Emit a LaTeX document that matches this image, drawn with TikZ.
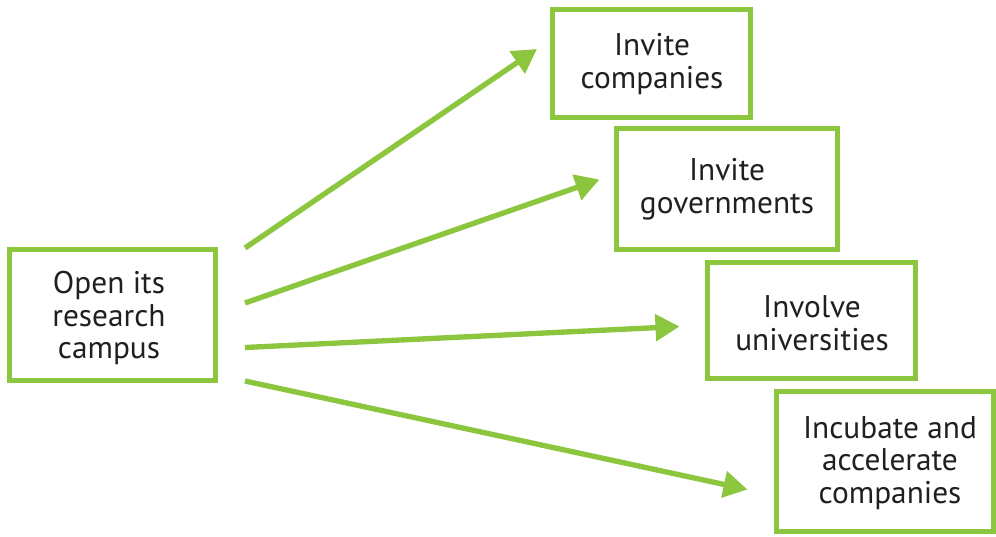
\documentclass[tikz,border=0pt]{standalone}
\usepackage{fontspec}
\setmainfont{PT Sans}
\usetikzlibrary{arrows.meta}
\definecolor{leaf}{HTML}{8CC63F}
\definecolor{ink}{HTML}{231F20}
\tikzset{
  box/.style={draw=leaf, line width=3.75pt, fill=white, inner sep=0pt},
  lbl/.style={text=ink, align=center, font=\fontsize{23.5}{24.4}\selectfont, inner sep=0pt},
  conn/.style={draw=leaf, line width=4pt, -{Triangle[length=18pt,width=19.5pt]}}
}
\begin{document}
\begin{tikzpicture}[x=0.75pt,y=-0.75pt]
\useasboundingbox (0,0) rectangle (996,536);
% boxes
\draw[box] (9,249.5) rectangle (215,380.5);
\draw[box] (552.5,9.5) rectangle (750.5,117.5);
\draw[box] (616.5,128.5) rectangle (837.5,249.5);
\draw[box] (707.5,262.5) rectangle (915.5,378.5);
\draw[box] (776.5,391.5) rectangle (993.5,531);
% labels
\node[lbl] (src) at (109,318) {Open its\\research\\campus};
\node[lbl] (t1) at (652,64) {Invite\\companies};
\node[lbl] (t2) at (727,189) {Invite\\governments};
\node[lbl] (t3) at (812,323) {Involve\\universities};
\node[lbl] (t4) at (890,463) {Incubate and\\accelerate\\companies};
% connector ends
\coordinate (s1) at (245,248);
\coordinate (s2) at (245,303);
\coordinate (s3) at (245,347.5);
\coordinate (s4) at (245,381);
\coordinate (e1) at (537,49);
\coordinate (e2) at (599.5,179.5);
\coordinate (e3) at (679.5,326.5);
\coordinate (e4) at (747.5,489.5);
\draw[conn] (s1) -- (e1);
\draw[conn] (s2) -- (e2);
\draw[conn] (s3) -- (e3);
\draw[conn] (s4) -- (e4);
\end{tikzpicture}
\end{document}
